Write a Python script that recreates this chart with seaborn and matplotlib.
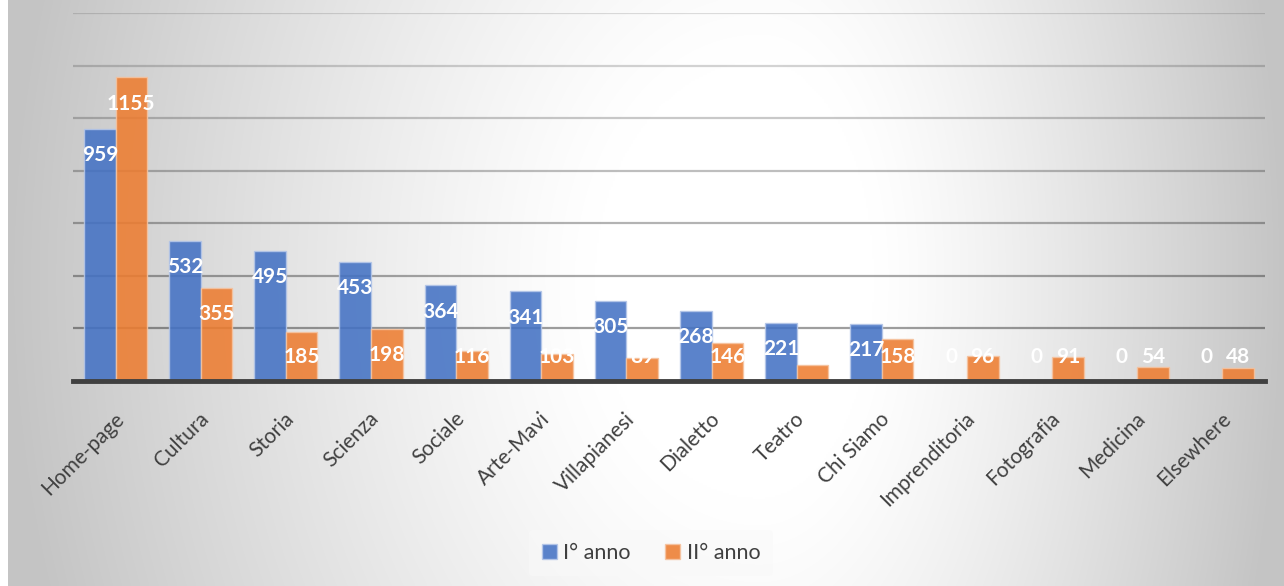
import numpy as np
import pandas as pd
import matplotlib
matplotlib.use("Agg")
import matplotlib.pyplot as plt
from matplotlib.transforms import ScaledTranslation
import seaborn as sns

categories = ["Home-page", "Cultura", "Storia", "Scienza", "Sociale", "Arte-Mavi",
              "Villapianesi", "Dialetto", "Teatro", "Chi Siamo", "Imprenditoria",
              "Fotografia", "Medicina", "Elsewhere"]
anno1 = [959, 532, 495, 453, 364, 341, 305, 268, 221, 217, 0, 0, 0, 0]
anno2 = [1155, 355, 185, 198, 116, 103, 89, 146, 62, 158, 96, 91, 54, 48]
series_names = ["I° anno", "II° anno"]
hidden_labels = [("II° anno", "Teatro")]

colors = ["#4472C4", "#ED7D31"]
edge_colors = ["#b4c6e8", "#f5c3a0"]

df = pd.DataFrame({
    "categoria": categories * 2,
    "serie": [series_names[0]] * len(categories) + [series_names[1]] * len(categories),
    "valore": anno1 + anno2,
})

sns.set_theme(style="white")
plt.rcParams["font.family"] = ["Lato", "DejaVu Sans"]

W, H = 12.84, 5.86
fig = plt.figure(figsize=(W, H), dpi=100)
fig.patch.set_facecolor("white")

# radial gradient background
bg = fig.add_axes([8 / 1284, 0, 1 - 8 / 1284, 1], zorder=-5)
xs = np.linspace(8, 1284, 640)
ys = np.linspace(0, 586, 300)
X, Y = np.meshgrid(xs, ys)
cx, cy = 760, 280
dx = np.where(X < cx, (X - cx) / (cx - 8), (X - cx) / (1284 - cx))
dy = (Y - cy) / 1000
d = np.sqrt(dx ** 2 + dy ** 2)
t = np.clip((d - 0.22) / 0.78, 0, 1)
g = 1 - 0.23 * t ** 1.2
img = np.dstack([g, g, g])
bg.imshow(img, aspect="auto", extent=[0, 1, 0, 1], origin="upper", interpolation="bilinear")
bg.axis("off")

ax = fig.add_axes([73 / 1284, 1 - 381 / 586, (1265 - 73) / 1284, (381 - 13) / 586])
ax.patch.set_alpha(0)

sns.barplot(data=df, x="categoria", y="valore", hue="serie", order=categories,
            hue_order=series_names, palette=colors, width=0.74, ax=ax,
            saturation=1, legend=True, zorder=3)

for i, cont in enumerate(ax.containers):
    name = series_names[i]
    vals = anno1 if i == 0 else anno2
    for patch, cat, v in zip(cont.patches, categories, vals):
        patch.set_alpha(0.88)
        patch.set_edgecolor(edge_colors[i])
        patch.set_linewidth(1.0)
        if (name, cat) in hidden_labels:
            continue
        xc = patch.get_x() + patch.get_width() / 2
        ax.text(xc, max(v - 100, 92), str(v), ha="center", va="center",
                color="white", fontsize=15, fontweight="bold", zorder=5,
                family=["Lato", "DejaVu Sans"])

ax.set_ylim(0, 1400)
ax.set_xlim(-0.5, len(categories) - 0.5)
grid_vals = np.arange(0, 1401, 200)
ax.set_yticks(grid_vals)
ax.set_yticklabels([])
ax.tick_params(axis="y", length=0)
ax.tick_params(axis="x", length=0, pad=25)
ax.yaxis.grid(True, color="black", linewidth=1.6, zorder=0)
for gl, val in zip(ax.get_ygridlines(), grid_vals):
    gl.set_alpha(0.38 - 0.25 * (val - 200) / 1200 if val > 0 else 0)
ax.set_axisbelow(True)
for s in ["top", "right", "left"]:
    ax.spines[s].set_visible(False)
ax.spines["bottom"].set_color("#404040")
ax.spines["bottom"].set_linewidth(3.5)
ax.spines["bottom"].set_zorder(6)
ax.set_xlabel("")
ax.set_ylabel("")
off = ScaledTranslation(5 / 100, 0, fig.dpi_scale_trans)
for lab in ax.get_xticklabels():
    lab.set_rotation(45)
    lab.set_ha("right")
    lab.set_va("center")
    lab.set_rotation_mode("anchor")
    lab.set_fontsize(15)
    lab.set_color("#404040")
    lab.set_transform(lab.get_transform() + off)

leg = ax.legend(loc="center", bbox_to_anchor=(651 / 1284, 1 - 553 / 586), bbox_transform=fig.transFigure,
                ncol=2, frameon=True, fontsize=15.5, handlelength=0.7, handleheight=0.7,
                handletextpad=0.3, columnspacing=1.6, borderpad=0.6)
leg.get_frame().set_facecolor("#f9f9f9")
leg.get_frame().set_edgecolor("none")
leg.get_frame().set_alpha(0.6)
for t_ in leg.get_texts():
    t_.set_color("#404040")
for h, ec in zip(leg.legend_handles, edge_colors):
    h.set_alpha(0.88)
    h.set_edgecolor(ec)

fig.savefig("out.png", dpi=100)
